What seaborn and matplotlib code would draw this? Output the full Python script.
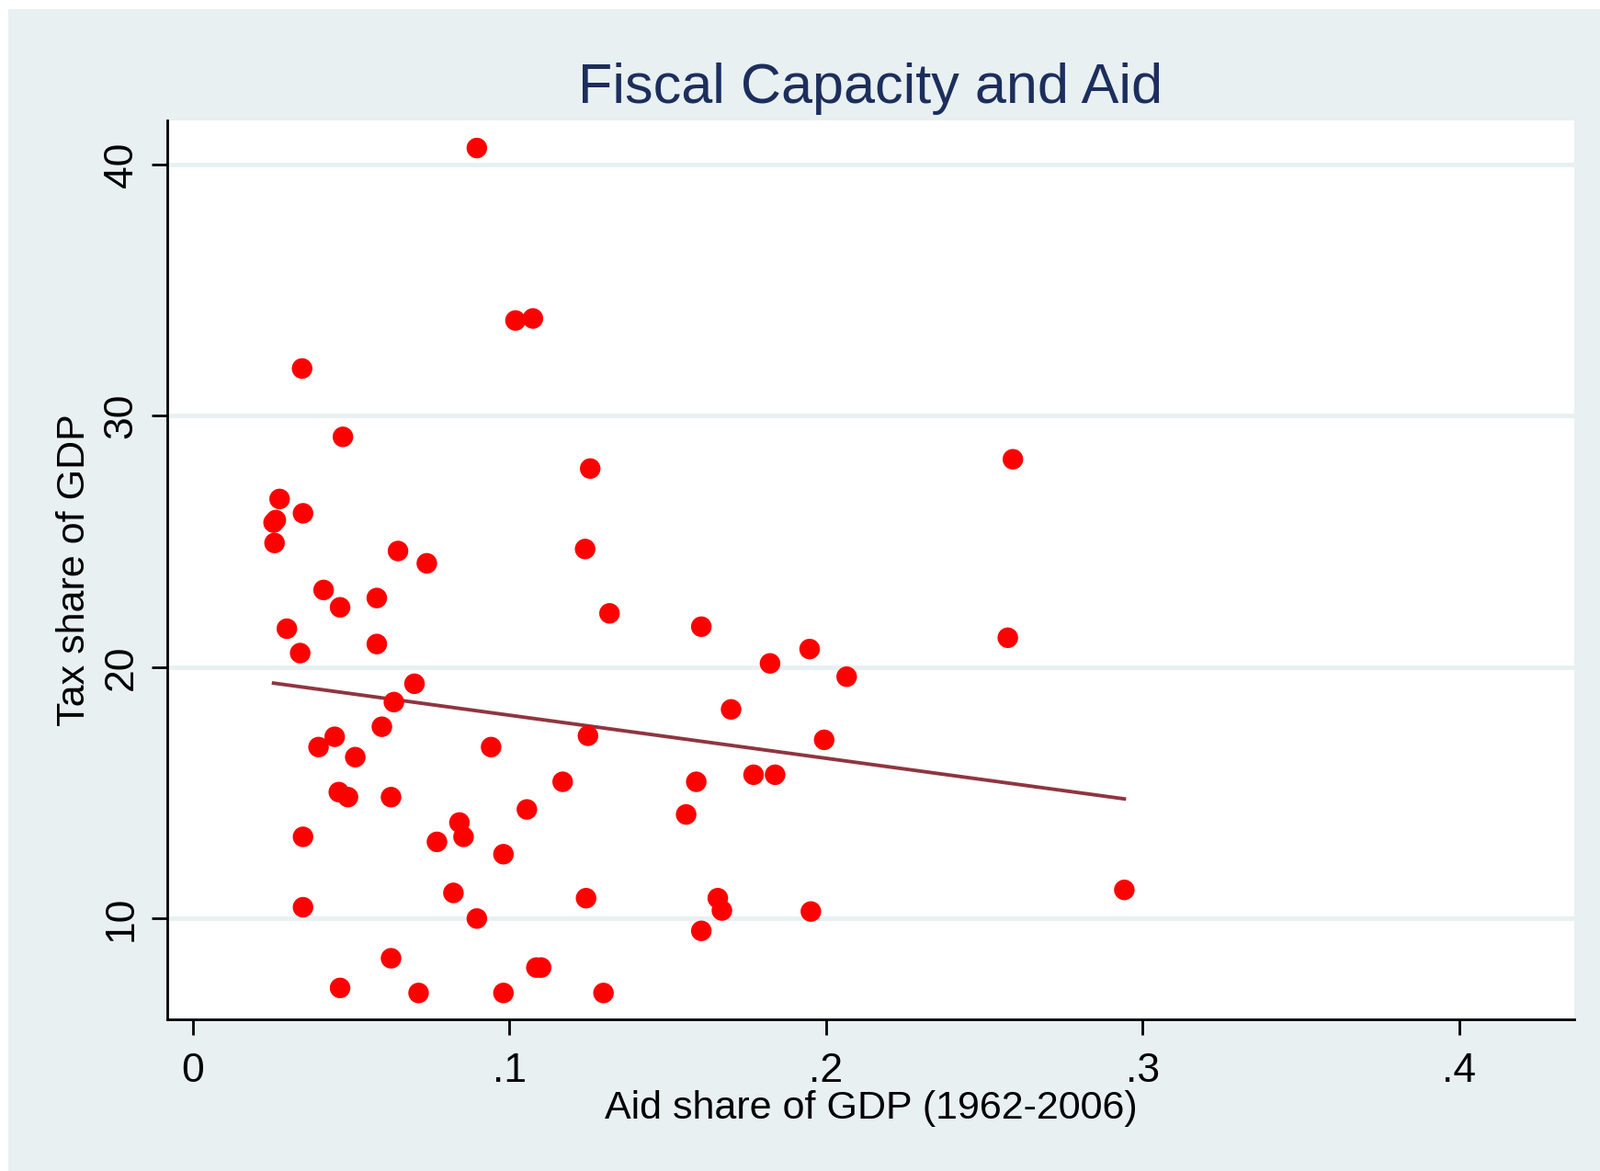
import matplotlib
matplotlib.use("Agg")
import matplotlib.pyplot as plt
import pandas as pd
import seaborn as sns
from matplotlib.patches import Rectangle

# Data
aid_share = [
    0.0897, 0.1019, 0.1074, 0.0345, 0.0474, 0.0274, 0.0255, 0.0262, 0.0348, 0.0258,
    0.1255, 0.2590, 0.0648, 0.0739, 0.1239, 0.0413, 0.0581, 0.0465, 0.1316, 0.0297,
    0.1606, 0.2574, 0.0581, 0.0339, 0.1948, 0.1823, 0.2065, 0.0700, 0.0635, 0.1700,
    0.0597, 0.0448, 0.1248, 0.1994, 0.0397, 0.0942, 0.0513, 0.1771, 0.1839, 0.1168,
    0.1590, 0.0461, 0.0490, 0.0626, 0.1055, 0.1558, 0.0842, 0.0348, 0.0855, 0.0771,
    0.0981, 0.2942, 0.0823, 0.1242, 0.1658, 0.1671, 0.0348, 0.1952, 0.0897, 0.1606,
    0.0626, 0.1085, 0.1100, 0.0465, 0.0713, 0.0981, 0.1297,
]
tax_share = [
    40.65, 33.79, 33.87, 31.88, 29.16, 26.69, 25.75, 25.85, 26.12, 24.94,
    27.90, 28.27, 24.62, 24.13, 24.70, 23.07, 22.75, 22.38, 22.14, 21.53,
    21.61, 21.17, 20.92, 20.56, 20.72, 20.15, 19.62, 19.34, 18.61, 18.32,
    17.63, 17.23, 17.27, 17.11, 16.82, 16.82, 16.42, 15.72, 15.72, 15.44,
    15.44, 15.03, 14.83, 14.83, 14.34, 14.14, 13.82, 13.25, 13.25, 13.05,
    12.56, 11.14, 11.02, 10.81, 10.81, 10.32, 10.45, 10.28, 10.00, 9.51,
    8.42, 8.05, 8.05, 7.24, 7.04, 7.04, 7.04,
]
x_ticks = [0, 0.1, 0.2, 0.3, 0.4]
x_tick_labels = ["0", ".1", ".2", ".3", ".4"]
y_ticks = [10, 20, 30, 40]

df = pd.DataFrame({"aid": aid_share, "tax": tax_share})

bg = "#E8F0F2"
plt.rcParams["font.family"] = ["Liberation Sans", "DejaVu Sans"]

fig = plt.figure(figsize=(17.41, 12.74), dpi=100, facecolor="white")
# Stata-like outer background with thin white margin on the top/left
fig.patches.append(Rectangle((9 / 1741, 0), 1, 1 - 10 / 1274, transform=fig.transFigure,
                             facecolor=bg, edgecolor="none", zorder=-10))

ax = fig.add_axes([0.1045, 0.1295, 0.9839 - 0.1045, 0.8972 - 0.1295])
ax.set_facecolor("white")

for yv in y_ticks:
    ax.axhline(yv, color=bg, linewidth=3.5, zorder=0)

sns.scatterplot(data=df, x="aid", y="tax", ax=ax, color="#FF0000", s=260,
                edgecolor="none", linewidth=0, zorder=3)
sns.regplot(data=df, x="aid", y="tax", ax=ax, scatter=False, ci=None, truncate=True,
            line_kws={"color": "#8F3540", "linewidth": 2.8, "zorder": 2})

ax.set_xlim(-0.0081, 0.4363)
ax.set_ylim(5.99, 41.75)
ax.set_xticks(x_ticks)
ax.set_xticklabels(x_tick_labels)
ax.set_yticks(y_ticks)

for side in ["top", "right"]:
    ax.spines[side].set_visible(False)
for side in ["left", "bottom"]:
    ax.spines[side].set_color("black")
    ax.spines[side].set_linewidth(2)

ax.tick_params(axis="both", length=12, width=2, labelsize=32, color="black")
ax.tick_params(axis="x", pad=14)
ax.tick_params(axis="y", pad=9, labelrotation=90)
for lab in ax.get_yticklabels():
    lab.set_va("center")

ax.set_xlabel("Aid share of GDP (1962-2006)", fontsize=31, labelpad=0)
ax.set_ylabel("Tax share of GDP", fontsize=31, labelpad=8)
ax.set_title("Fiscal Capacity and Aid", fontsize=44, color="#1C2E5C", pad=14)

fig.savefig("out.png", dpi=100, facecolor=fig.get_facecolor())
